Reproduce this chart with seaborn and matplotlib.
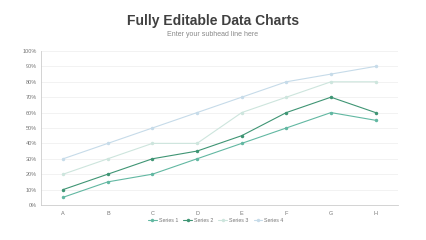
import matplotlib
matplotlib.use("Agg")
import matplotlib.pyplot as plt
import seaborn as sns
import pandas as pd
import numpy as np
from matplotlib.ticker import FixedLocator, PercentFormatter

categories = ["A", "B", "C", "D", "E", "F", "G", "H"]
series_names = ["Series 1", "Series 2", "Series 3", "Series 4"]
series1 = [5, 15, 20, 30, 40, 50, 60, 55]
series2 = [10, 20, 30, 35, 45, 60, 70, 60]
series3 = [20, 30, 40, 40, 60, 70, 80, 80]
series4 = [30, 40, 50, 60, 70, 80, 85, 90]
colors = ["#62b8a2", "#3f9574", "#cde5dd", "#c6dbe9"]

rows = []
for name, vals in zip(series_names, [series1, series2, series3, series4]):
    for c, v in zip(categories, vals):
        rows.append({"cat": c, "val": v, "series": name})
df = pd.DataFrame(rows)

sns.set_theme(style="white")
plt.rcParams["font.family"] = ["Liberation Sans", "DejaVu Sans"]

fig = plt.figure(figsize=(4.26, 2.40), dpi=100)
ax = fig.add_axes([0.096, 0.146, 0.838, 0.6415])

sns.lineplot(data=df, x="cat", y="val", hue="series", palette=colors,
             marker="o", markersize=2.5, markeredgewidth=0, linewidth=0.8,
             ax=ax, legend=True, sort=False)

ax.set_xlim(-0.5, 7.5)
ax.set_ylim(0, 100)
ax.set_yticks(np.arange(0, 101, 10))
ax.yaxis.set_major_formatter(PercentFormatter(decimals=0))
ax.yaxis.grid(True, color="#f0f0f0", linewidth=0.6)
ax.set_axisbelow(True)
ax.set_xlabel("")
ax.set_ylabel("")
ax.tick_params(axis="both", labelsize=4, colors="#777777", length=0, pad=3)
ax.xaxis.set_minor_locator(FixedLocator(np.arange(-0.5, 8, 1)))
ax.tick_params(axis="x", which="minor", length=2, width=0.5, color="#cccccc", direction="out")
ax.tick_params(axis="x", which="major", pad=4)
for s in ["top", "right"]:
    ax.spines[s].set_visible(False)
for s in ["left", "bottom"]:
    ax.spines[s].set_color("#cccccc")
    ax.spines[s].set_linewidth(0.6)

leg = ax.legend(loc="upper center", bbox_to_anchor=(0.49, -0.055), ncol=4, frameon=False,
                fontsize=3.8, handlelength=1.6, columnspacing=1.0, handletextpad=0.4,
                labelcolor="#777777")

fig.text(0.5, 0.912, "Fully Editable Data Charts", ha="center", va="center",
         fontsize=10, fontweight="bold", color="#404040")
fig.text(0.5, 0.855, "Enter your subhead line here", ha="center", va="center",
         fontsize=5, color="#888888")

fig.savefig("out.png", dpi=100, facecolor="white")
